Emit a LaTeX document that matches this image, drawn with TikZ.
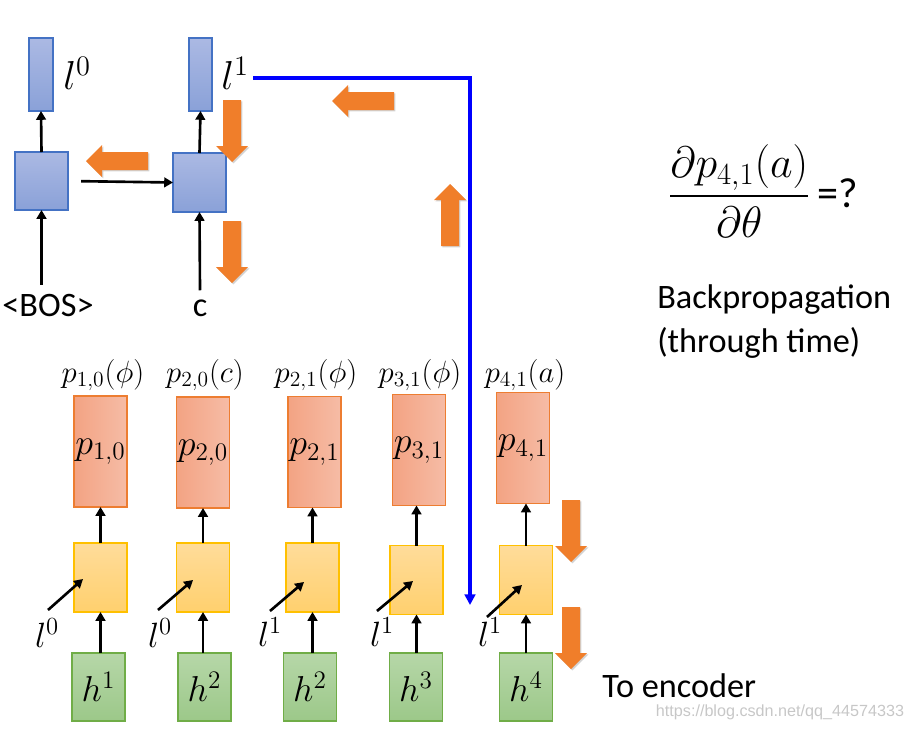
\RequirePackage{fix-cm}
\documentclass[tikz,border=0pt]{standalone}
\usepackage{amsmath}
\usepackage{fontspec}
\setmainfont{Carlito}
\newfontfamily\wmfont{Liberation Sans}
\usetikzlibrary{arrows.meta,shadows}
\definecolor{redL}{HTML}{F3A383}
\definecolor{redR}{HTML}{F6BCA6}
\definecolor{redB}{HTML}{ED7D31}
\definecolor{yT}{HTML}{FFDC9A}
\definecolor{yB}{HTML}{FFD06E}
\definecolor{yBord}{HTML}{FFC000}
\definecolor{gT}{HTML}{B6D7A8}
\definecolor{gB}{HTML}{9CC889}
\definecolor{gBord}{HTML}{70AD47}
\definecolor{bT}{HTML}{ABB9E3}
\definecolor{bB}{HTML}{8AA1D8}
\definecolor{bBord}{HTML}{4472C4}
\definecolor{orArr}{HTML}{F07E2A}
\definecolor{bline}{HTML}{0000FF}
\newcommand\fs[1]{\fontsize{#1}{#1}\selectfont}
\tikzset{
  box/.style={inner sep=0pt, outer sep=0pt, line width=0.9pt},
  rbox/.style={box, draw=redB, left color=redL, right color=redR, minimum width=1.06cm, minimum height=2.22cm},
  ybox/.style={box, draw=yBord, top color=yT, bottom color=yB, minimum width=1.06cm, minimum height=1.38cm},
  gbox/.style={box, draw=gBord, top color=gT, bottom color=gB, minimum width=1.06cm, minimum height=1.36cm},
  bbox/.style={box, draw=bBord, top color=bT, bottom color=bB},
  conn/.style={line width=1.5pt, -{Triangle[length=5pt,width=5.5pt]}},
  blueline/.style={draw=bline, line width=1.8pt, -{Triangle[length=6pt,width=6pt]}},
  lab/.style={inner sep=0pt},
  barrow/.pic={\fill[orArr, drop shadow={shadow xshift=0.8pt, shadow yshift=-0.8pt, opacity=0.35}]
     (-9,0) -- (9,0) -- (9,46) -- (16,46) -- (0,62) -- (-16,46) -- (-9,46) -- cycle;}
}
\begin{document}
\begin{tikzpicture}[x=0.02cm, y=-0.02cm]
\useasboundingbox (0,0) rectangle (914,730);
% ---------- top-left decoder ----------
\node[bbox, minimum width=0.48cm, minimum height=1.46cm] (bar0) at (41,74.5) {};
\node[bbox, minimum width=0.46cm, minimum height=1.46cm] (bar1) at (200.5,74.5) {};
\node[bbox, minimum width=1.06cm, minimum height=1.16cm] (sq0) at (41.5,181) {};
\node[bbox, minimum width=1.06cm, minimum height=1.18cm] (sq1) at (199.5,182.5) {};
\node[lab, anchor=base west] (l0lab) at (63,90) {\fs{23}$l^0$};
\node[lab, anchor=base west] (l1lab) at (221,90) {\fs{23}$l^1$};
\node[lab, anchor=base, inner sep=5pt] (bos) at (48,316) {\fs{19.5}<BOS>};
\node[lab, anchor=base, inner sep=5pt] (cin) at (200,316) {\fs{19.5}c};
\draw[conn] (bos.north -| sq0.south) -- (sq0.south);
\draw[conn] (sq0.north) -- (bar0.south);
\draw[conn] (sq1.north) -- (bar1.south);
\draw[conn] (cin.north) -- (sq1.south);
\draw[conn, shorten <=5\pgflinewidth] (sq0.east) -- (sq1.west);
% blue backprop path
\coordinate (bstart) at (253,78);
\coordinate (bend) at (470,605);
\draw[blueline] (bstart) -| (bend);
% ---------- bottom columns ----------
\node[rbox] (r1) at (100.5,451.5) {\fs{20.5}$p_{1,0}$};
\node[rbox] (r2) at (203,452.5) {\fs{20.5}$p_{2,0}$};
\node[rbox] (r3) at (314.5,452) {\fs{20.5}$p_{2,1}$};
\node[rbox] (r4) at (419,450) {\fs{20.5}$p_{3,1}$};
\node[rbox] (r5) at (523,448) {\fs{20.5}$p_{4,1}$};
\node[lab] (t1) at (103,375) {\fs{17.5}$p_{1,0}(\phi)$};
\node[lab] (t2) at (205,375) {\fs{17.5}$p_{2,0}(c)$};
\node[lab] (t3) at (316,375) {\fs{17.5}$p_{2,1}(\phi)$};
\node[lab] (t4) at (420,375) {\fs{17.5}$p_{3,1}(\phi)$};
\node[lab] (t5) at (525,375) {\fs{17.5}$p_{4,1}(a)$};
\node[ybox] (y1) at (100.5,577.5) {};
\node[ybox] (y2) at (203,577.5) {};
\node[ybox] (y3) at (312.5,577.5) {};
\node[ybox] (y4) at (416.5,580) {};
\node[ybox] (y5) at (526,580) {};
\node[gbox] (g1) at (98.5,687) {\fs{20.5}$h^1$};
\node[gbox] (g2) at (204.5,687) {\fs{20.5}$h^2$};
\node[gbox] (g3) at (310,687) {\fs{20.5}$h^2$};
\node[gbox] (g4) at (416,687) {\fs{20.5}$h^3$};
\node[gbox] (g5) at (526,687) {\fs{20.5}$h^4$};
\foreach \i in {1,...,5}{
  \draw[conn] (y\i.north) -- (r\i.south -| y\i.north);
  \draw[conn] (g\i.north -| y\i.south) -- (y\i.south);
}
\node[lab] (ll1) at (47,633) {\fs{20}$l^0$};
\node[lab] (ll2) at (160,633) {\fs{20}$l^0$};
\node[lab] (ll3) at (270,632) {\fs{20}$l^1$};
\node[lab] (ll4) at (382,632) {\fs{20}$l^1$};
\node[lab] (ll5) at (490,632) {\fs{20}$l^1$};
\coordinate (d1s) at (48,610);  \coordinate (d1e) at (83,579);
\coordinate (d2s) at (158,610); \coordinate (d2e) at (193,580);
\coordinate (d3s) at (270,611); \coordinate (d3e) at (304,582);
\coordinate (d4s) at (377,611); \coordinate (d4e) at (413,581);
\coordinate (d5s) at (487,617); \coordinate (d5e) at (522,585);
\foreach \i in {1,...,5}{ \draw[conn] (d\i s) -- (d\i e); }
% ---------- orange block arrows ----------
\pic[rotate=-90] at (148,161) {barrow};
\pic[rotate=-90] at (394,101) {barrow};
\pic at (232,100) {barrow};
\pic at (232,221) {barrow};
\pic[rotate=180] at (450,246) {barrow};
\pic at (571,500) {barrow};
\pic at (571,607) {barrow};
% ---------- right texts ----------
\node[lab, anchor=west] (frac) at (668,191) {\fs{25}$\displaystyle\frac{\partial p_{4,1}(a)}{\partial\theta}$\,\fs{24}=?};
\node[lab, anchor=base west] (bp1) at (657,308) {\fs{19.5}Backpropagation};
\node[lab, anchor=base west] (bp2) at (657,352) {\fs{19.5}(through time)};
\node[lab, anchor=base west] (enc) at (602,697) {\fs{19.5}To encoder};
\node[lab, text=black!22] (wm) at (780,712) {\wmfont\fs{9.2}https://blog.csdn.net/qq\_44574333};
\end{tikzpicture}
\end{document}
